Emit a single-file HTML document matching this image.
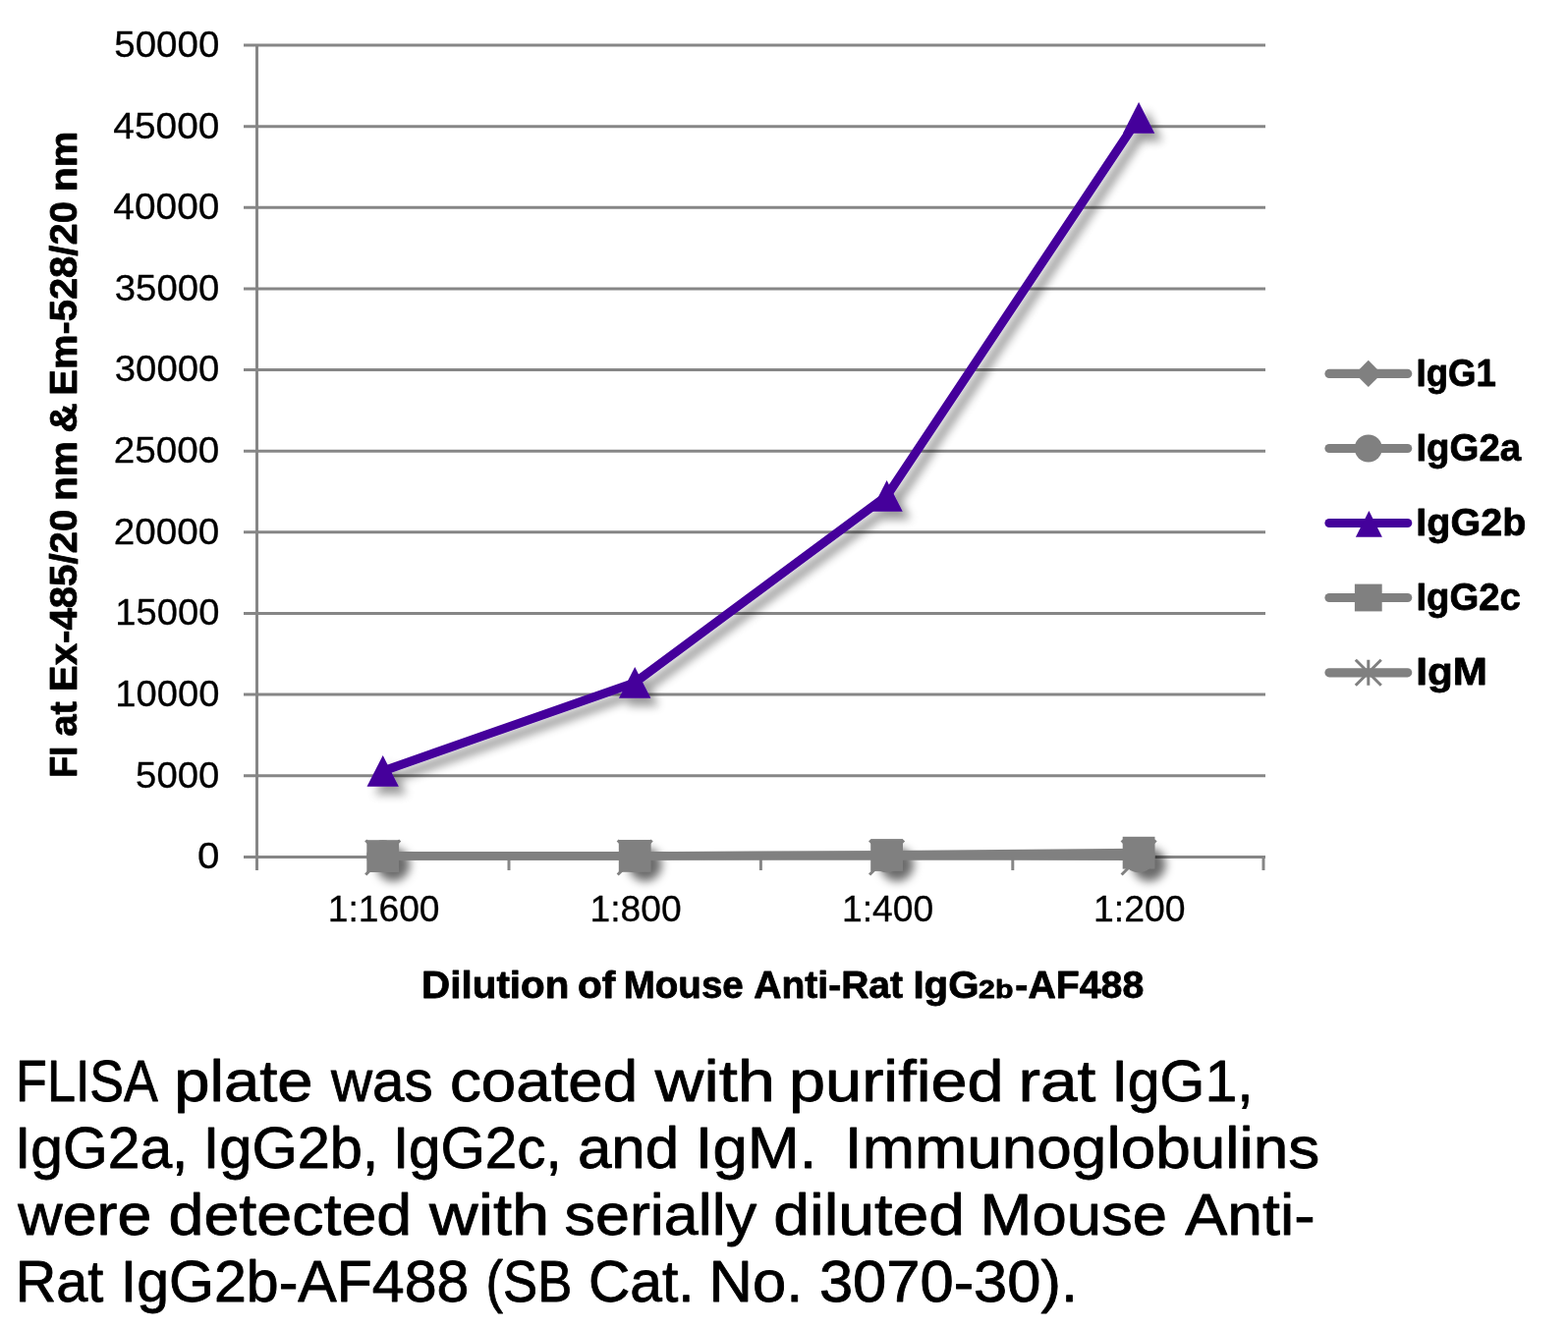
<!DOCTYPE html>
<html lang="en">
<head>
<meta charset="utf-8">
<title>Mouse Anti-Rat IgG2b-AF488 FLISA</title>
<style>
html,body{margin:0;padding:0;background:#fff;}
body{width:1596px;height:1353px;overflow:hidden;}
svg{display:block;}
text{font-family:"Liberation Sans", "DejaVu Sans", sans-serif;fill:#000;}
.t text{stroke:#000;stroke-width:0.3px;stroke-linejoin:round;}
.b{font-weight:bold;stroke:#000;stroke-width:0.8px;stroke-linejoin:round;}
.c text{stroke:#000;stroke-width:0.85px;stroke-linejoin:round;}
</style>
</head>
<body>
<svg width="1596" height="1353" viewBox="0 0 1596 1353">
<defs>
<filter id="sh" x="0" y="0" width="1596" height="1353" filterUnits="userSpaceOnUse">
<feGaussianBlur in="SourceAlpha" stdDeviation="5"/>
<feOffset dx="8" dy="7.5"/>
<feComponentTransfer><feFuncA type="linear" slope="0.4"/></feComponentTransfer>
<feMerge><feMergeNode/><feMergeNode in="SourceGraphic"/></feMerge>
</filter>
<filter id="bl" x="0" y="0" width="1596" height="1353" filterUnits="userSpaceOnUse">
<feGaussianBlur stdDeviation="5"/>
</filter>
</defs>
<rect width="1596" height="1353" fill="#ffffff"/>
<g stroke="#868686" stroke-width="3" fill="none">
<line x1="248" y1="872.40" x2="1288.0" y2="872.40"/>
<line x1="248" y1="789.76" x2="1288.0" y2="789.76"/>
<line x1="248" y1="707.12" x2="1288.0" y2="707.12"/>
<line x1="248" y1="624.48" x2="1288.0" y2="624.48"/>
<line x1="248" y1="541.84" x2="1288.0" y2="541.84"/>
<line x1="248" y1="459.20" x2="1288.0" y2="459.20"/>
<line x1="248" y1="376.56" x2="1288.0" y2="376.56"/>
<line x1="248" y1="293.92" x2="1288.0" y2="293.92"/>
<line x1="248" y1="211.28" x2="1288.0" y2="211.28"/>
<line x1="248" y1="128.64" x2="1288.0" y2="128.64"/>
<line x1="248" y1="46.00" x2="1288.0" y2="46.00"/>
<line x1="261.5" y1="45.50" x2="261.5" y2="886"/>
<line x1="518.0" y1="872.40" x2="518.0" y2="886"/>
<line x1="774.4" y1="872.40" x2="774.4" y2="886"/>
<line x1="1030.8" y1="872.40" x2="1030.8" y2="886"/>
<line x1="1286.0" y1="872.40" x2="1286.0" y2="886"/>
</g>
<g class="t">
<text font-size="37.3" x="201.03" y="884.2" textLength="22.45" lengthAdjust="spacingAndGlyphs">0</text>
<text font-size="37.3" x="138.11" y="801.6" textLength="85.27" lengthAdjust="spacingAndGlyphs">5000</text>
<text font-size="37.3" x="117.34" y="719.0" textLength="106.01" lengthAdjust="spacingAndGlyphs">10000</text>
<text font-size="37.3" x="117.34" y="636.3" textLength="106.01" lengthAdjust="spacingAndGlyphs">15000</text>
<text font-size="37.3" x="115.78" y="553.7" textLength="107.60" lengthAdjust="spacingAndGlyphs">20000</text>
<text font-size="37.3" x="115.78" y="471.1" textLength="107.60" lengthAdjust="spacingAndGlyphs">25000</text>
<text font-size="37.3" x="116.81" y="388.4" textLength="106.55" lengthAdjust="spacingAndGlyphs">30000</text>
<text font-size="37.3" x="116.81" y="305.8" textLength="106.55" lengthAdjust="spacingAndGlyphs">35000</text>
<text font-size="37.3" x="115.37" y="223.1" textLength="108.01" lengthAdjust="spacingAndGlyphs">40000</text>
<text font-size="37.3" x="115.37" y="140.5" textLength="108.01" lengthAdjust="spacingAndGlyphs">45000</text>
<text font-size="37.3" x="116.30" y="57.9" textLength="107.06" lengthAdjust="spacingAndGlyphs">50000</text>
<text font-size="37.3" x="333.71" y="937.6" textLength="113.82" lengthAdjust="spacingAndGlyphs">1:1600</text>
<text font-size="37.3" x="600.61" y="937.6" textLength="93.03" lengthAdjust="spacingAndGlyphs">1:800</text>
<text font-size="37.3" x="857.00" y="937.6" textLength="93.24" lengthAdjust="spacingAndGlyphs">1:400</text>
<text font-size="37.3" x="1113.09" y="937.6" textLength="93.55" lengthAdjust="spacingAndGlyphs">1:200</text>
</g>
<g filter="url(#bl)" fill="#000" fill-opacity="0.58">
<circle cx="400.2" cy="880.3" r="17"/>
<circle cx="656.7" cy="880.3" r="17"/>
<circle cx="913.1" cy="880.3" r="17"/>
<circle cx="1169.6" cy="880.3" r="17"/>
</g>
<g fill="none" stroke="#808080" stroke-width="3">
<path d="M372.2 855.5 l17.5 17.5 M407.2 855.5 l-35 35"/>
<path d="M628.7 855.5 l17.5 17.5 M663.7 855.5 l-35 35"/>
<path d="M885.1 855.5 l17.5 17.5 M920.1 855.5 l-35 35"/>
<path d="M1141.6 855.5 l17.5 17.5 M1176.6 855.5 l-35 35"/>
</g>
<g fill="none" stroke="#808080" stroke-width="8.6" stroke-linejoin="round">
<polyline points="389.7,871.4 646.2,871.4 902.6,871.4 1159.1,871.7"/>
<polyline points="389.7,871.5 646.2,871.5 902.6,870.2 1159.1,868.1"/>
</g>
<g fill="#808080">
<circle cx="389.7" cy="871.8" r="16.5"/>
<rect x="373.3" y="855.2" width="32.8" height="32.8"/>
<circle cx="646.2" cy="871.8" r="16.5"/>
<rect x="629.8" y="855.0" width="32.8" height="32.8"/>
<circle cx="902.6" cy="871.8" r="16.5"/>
<rect x="886.2" y="854.1" width="32.8" height="32.8"/>
<circle cx="1159.1" cy="871.8" r="16.5"/>
<rect x="1142.7" y="851.8" width="32.8" height="32.8"/>
</g>
<g filter="url(#sh)">
<polyline points="389.7,784.9 646.2,694.9 902.6,504.9 1159.1,119.9" fill="none" stroke="#44019b" stroke-width="9" stroke-linejoin="round"/>
<path d="M389.7 769.0 l16.2 31.8 h-32.4 z" fill="#44019b"/>
<path d="M646.2 679.0 l16.2 31.8 h-32.4 z" fill="#44019b"/>
<path d="M902.6 489.0 l16.2 31.8 h-32.4 z" fill="#44019b"/>
<path d="M1159.1 104.0 l16.2 31.8 h-32.4 z" fill="#44019b"/>
</g>
<line x1="1353.0" y1="380.4" x2="1432.7" y2="380.4" stroke="#808080" stroke-width="9.2" stroke-linecap="round"/>
<path d="M1392.8 366.8 l13.6 13.6 l-13.6 13.6 l-13.6 -13.6 z" fill="#808080"/>
<line x1="1353.0" y1="456.5" x2="1432.7" y2="456.5" stroke="#808080" stroke-width="9.2" stroke-linecap="round"/>
<circle cx="1392.8" cy="456.5" r="14" fill="#808080"/>
<line x1="1353.0" y1="532.5" x2="1432.7" y2="532.5" stroke="#44019b" stroke-width="9.2" stroke-linecap="round"/>
<path d="M1393.4 519.9 l13.5 26.8 h-27 z" fill="#44019b"/>
<line x1="1353.0" y1="608.5" x2="1432.7" y2="608.5" stroke="#808080" stroke-width="9.2" stroke-linecap="round"/>
<rect x="1378.9" y="594.6" width="27.8" height="27.8" fill="#808080"/>
<line x1="1353.0" y1="684.8" x2="1432.7" y2="684.8" stroke="#808080" stroke-width="9.2" stroke-linecap="round"/>
<path d="M1379.8 671.8 l26 26 M1405.8 671.8 l-26 26 M1392.8 671.8 v26" stroke="#808080" stroke-width="3" fill="none"/>
<g>
<text class="b" font-size="39.2" x="1441.52" y="392.5" textLength="81.32" lengthAdjust="spacingAndGlyphs">IgG1</text>
<text class="b" font-size="39.2" x="1441.40" y="468.6" textLength="106.76" lengthAdjust="spacingAndGlyphs">IgG2a</text>
<text class="b" font-size="39.2" x="1441.33" y="544.6" textLength="112.03" lengthAdjust="spacingAndGlyphs">IgG2b</text>
<text class="b" font-size="39.2" x="1441.40" y="620.6" textLength="106.53" lengthAdjust="spacingAndGlyphs">IgG2c</text>
<text class="b" font-size="39.2" x="1441.16" y="696.9" textLength="72.67" lengthAdjust="spacingAndGlyphs">IgM</text>
<text class="b" font-size="39.2" y="1016.2"><tspan x="429.12" textLength="150.28" lengthAdjust="spacingAndGlyphs">Dilution</tspan> <tspan x="588.05" textLength="38.35" lengthAdjust="spacingAndGlyphs">of</tspan> <tspan x="634.74" textLength="121.99" lengthAdjust="spacingAndGlyphs">Mouse</tspan> <tspan x="767.30" textLength="151.77" lengthAdjust="spacingAndGlyphs">Anti-Rat</tspan> <tspan x="929.43" textLength="67.10" lengthAdjust="spacingAndGlyphs">IgG</tspan><tspan x="996.06" font-size="26.6" textLength="35.33" lengthAdjust="spacingAndGlyphs">2b</tspan><tspan x="1033.30" textLength="130.98" lengthAdjust="spacingAndGlyphs">-AF488</tspan></text>
<text class="b" font-size="39.2" transform="translate(77.7 789.9) rotate(-90)" y="0"><tspan x="-1.89" textLength="31.96" lengthAdjust="spacingAndGlyphs">FI</tspan> <tspan x="40.22" textLength="35.65" lengthAdjust="spacingAndGlyphs">at</tspan> <tspan x="85.74" textLength="185.50" lengthAdjust="spacingAndGlyphs">Ex-485/20</tspan> <tspan x="279.80" textLength="61.13" lengthAdjust="spacingAndGlyphs">nm</tspan> <tspan x="349.22" textLength="30.39" lengthAdjust="spacingAndGlyphs">&amp;</tspan> <tspan x="387.15" textLength="197.62" lengthAdjust="spacingAndGlyphs">Em-528/20</tspan> <tspan x="594.58" textLength="61.68" lengthAdjust="spacingAndGlyphs">nm</tspan></text>
</g>
<g class="c">
<text font-size="60.0" y="1121.2"><tspan x="16.08" textLength="141.92" lengthAdjust="spacingAndGlyphs">FLISA</tspan> <tspan x="177.18" textLength="141.43" lengthAdjust="spacingAndGlyphs">plate</tspan> <tspan x="337.03" textLength="103.59" lengthAdjust="spacingAndGlyphs">was</tspan> <tspan x="457.97" textLength="191.25" lengthAdjust="spacingAndGlyphs">coated</tspan> <tspan x="666.82" textLength="122.18" lengthAdjust="spacingAndGlyphs">with</tspan> <tspan x="802.98" textLength="218.72" lengthAdjust="spacingAndGlyphs">purified</tspan> <tspan x="1036.42" textLength="78.85" lengthAdjust="spacingAndGlyphs">rat</tspan> <tspan x="1131.42" textLength="144.16" lengthAdjust="spacingAndGlyphs">IgG1,</tspan></text>
<text font-size="60.0" y="1189.3"><tspan x="15.04" textLength="176.40" lengthAdjust="spacingAndGlyphs">IgG2a,</tspan> <tspan x="206.77" textLength="178.64" lengthAdjust="spacingAndGlyphs">IgG2b,</tspan> <tspan x="399.88" textLength="171.74" lengthAdjust="spacingAndGlyphs">IgG2c,</tspan> <tspan x="587.94" textLength="103.31" lengthAdjust="spacingAndGlyphs">and</tspan> <tspan x="707.80" textLength="123.66" lengthAdjust="spacingAndGlyphs">IgM.</tspan> <tspan x="859.86" textLength="483.43" lengthAdjust="spacingAndGlyphs">Immunoglobulins</tspan></text>
<text font-size="60.0" y="1257.3"><tspan x="18.32" textLength="136.03" lengthAdjust="spacingAndGlyphs">were</tspan> <tspan x="171.54" textLength="247.68" lengthAdjust="spacingAndGlyphs">detected</tspan> <tspan x="437.12" textLength="122.18" lengthAdjust="spacingAndGlyphs">with</tspan> <tspan x="574.59" textLength="195.51" lengthAdjust="spacingAndGlyphs">serially</tspan> <tspan x="787.17" textLength="194.91" lengthAdjust="spacingAndGlyphs">diluted</tspan> <tspan x="997.64" textLength="190.48" lengthAdjust="spacingAndGlyphs">Mouse</tspan> <tspan x="1206.36" textLength="132.23" lengthAdjust="spacingAndGlyphs">Anti-</tspan></text>
<text font-size="60.0" y="1325.3"><tspan x="15.63" textLength="89.50" lengthAdjust="spacingAndGlyphs">Rat</tspan> <tspan x="122.81" textLength="354.54" lengthAdjust="spacingAndGlyphs">IgG2b-AF488</tspan> <tspan x="494.54" textLength="87.72" lengthAdjust="spacingAndGlyphs">(SB</tspan> <tspan x="598.89" textLength="107.72" lengthAdjust="spacingAndGlyphs">Cat.</tspan> <tspan x="721.60" textLength="95.79" lengthAdjust="spacingAndGlyphs">No.</tspan> <tspan x="833.92" textLength="263.15" lengthAdjust="spacingAndGlyphs">3070-30).</tspan></text>
</g>
</svg>
</body>
</html>
